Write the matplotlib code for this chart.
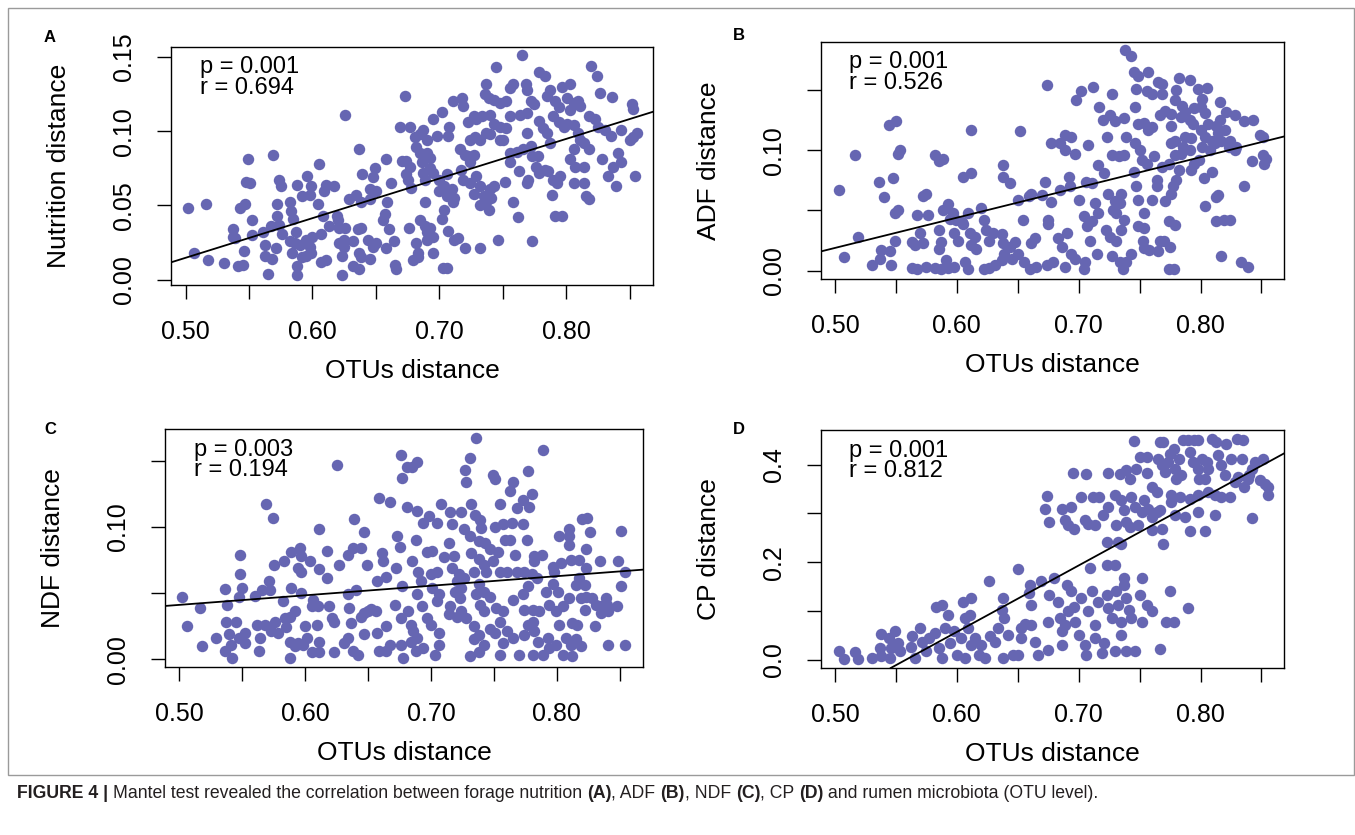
import numpy as np
import matplotlib.pyplot as plt
from matplotlib.patches import Rectangle

plt.rcParams['font.family'] = ['Liberation Sans', 'DejaVu Sans']

# (OTUs distance, forage distance) pairs
nutrition_pts = [
    (0.502, 0.048), (0.516, 0.051), (0.507, 0.018), (0.518, 0.013), (0.530, 0.011), (0.541, 0.009), (0.545, 0.010),
    (0.537, 0.029), (0.537, 0.034), (0.539, 0.028), (0.543, 0.048), (0.547, 0.051), (0.552, 0.040), (0.552, 0.030),
    (0.546, 0.019), (0.549, 0.081), (0.548, 0.066), (0.551, 0.065), (0.569, 0.084), (0.561, 0.032),
    (0.563, 0.023), (0.563, 0.016), (0.565, 0.004), (0.568, 0.014), (0.571, 0.021), (0.567, 0.036),
    (0.572, 0.051), (0.572, 0.043), (0.574, 0.067), (0.575, 0.063), (0.574, 0.037), (0.576, 0.031),
    (0.582, 0.052), (0.583, 0.046), (0.585, 0.041), (0.588, 0.064), (0.596, 0.070), (0.599, 0.063),
    (0.582, 0.026), (0.586, 0.025), (0.590, 0.023), (0.587, 0.032), (0.584, 0.018), (0.592, 0.015), (0.588, 0.009),
    (0.588, 0.003), (0.595, 0.027), (0.598, 0.022), (0.600, 0.029), (0.599, 0.018), (0.595, 0.016), (0.592, 0.056),
    (0.598, 0.057), (0.605, 0.078), (0.611, 0.064), (0.617, 0.063), (0.609, 0.060), (0.604, 0.051), (0.608, 0.043),
    (0.607, 0.031), (0.607, 0.012), (0.611, 0.013), (0.613, 0.036), (0.619, 0.043), (0.620, 0.040), (0.621, 0.035),
    (0.626, 0.035), (0.623, 0.003), (0.621, 0.025), (0.625, 0.022), (0.623, 0.016), (0.632, 0.026), (0.625, 0.027),
    (0.626, 0.111), (0.629, 0.054), (0.634, 0.057), (0.638, 0.052), (0.637, 0.088), (0.639, 0.071),
    (0.636, 0.034), (0.638, 0.035), (0.637, 0.018), (0.638, 0.015), (0.632, 0.009), (0.637, 0.007),
    (0.645, 0.061), (0.649, 0.075), (0.648, 0.069), (0.650, 0.060), (0.645, 0.054),
    (0.644, 0.027), (0.645, 0.014), (0.648, 0.022), (0.650, 0.025),
    (0.658, 0.081), (0.659, 0.052), (0.662, 0.065), (0.657, 0.044), (0.656, 0.040),
    (0.660, 0.034), (0.664, 0.026), (0.658, 0.021), (0.665, 0.010), (0.666, 0.007),
    (0.669, 0.103), (0.677, 0.103), (0.673, 0.124),
    (0.671, 0.080), (0.674, 0.080), (0.677, 0.076), (0.674, 0.071), (0.675, 0.067), (0.678, 0.062),
    (0.676, 0.035), (0.682, 0.025), (0.683, 0.018), (0.679, 0.013), (0.683, 0.015),
    (0.681, 0.096), (0.685, 0.098), (0.687, 0.101), (0.682, 0.089), (0.690, 0.094),
    (0.685, 0.085), (0.690, 0.085), (0.693, 0.082), (0.686, 0.079), (0.687, 0.072), (0.693, 0.075), (0.695, 0.072),
    (0.689, 0.067), (0.689, 0.052), (0.685, 0.040), (0.689, 0.036), (0.690, 0.032), (0.693, 0.035), (0.695, 0.029),
    (0.690, 0.027), (0.695, 0.018), (0.703, 0.008), (0.706, 0.008),
    (0.695, 0.108), (0.702, 0.113), (0.698, 0.097), (0.708, 0.103), (0.707, 0.097),
    (0.711, 0.120), (0.718, 0.122), (0.719, 0.117),
    (0.700, 0.067), (0.706, 0.071), (0.704, 0.063), (0.700, 0.060), (0.706, 0.056), (0.710, 0.061), (0.712, 0.055),
    (0.711, 0.052), (0.704, 0.047), (0.702, 0.041), (0.707, 0.033), (0.712, 0.027), (0.715, 0.028), (0.720, 0.021),
    (0.732, 0.021), (0.716, 0.088), (0.720, 0.084), (0.724, 0.079), (0.717, 0.074), (0.723, 0.083), (0.727, 0.084),
    (0.723, 0.106), (0.727, 0.110), (0.729, 0.108), (0.734, 0.110), (0.740, 0.111),
    (0.724, 0.094), (0.728, 0.096), (0.732, 0.094), (0.737, 0.099), (0.740, 0.098),
    (0.736, 0.125), (0.739, 0.122), (0.743, 0.121), (0.737, 0.132), (0.745, 0.143), (0.748, 0.119), (0.753, 0.120),
    (0.719, 0.067), (0.724, 0.065), (0.729, 0.070), (0.732, 0.063), (0.727, 0.058), (0.735, 0.056), (0.737, 0.052),
    (0.732, 0.050), (0.740, 0.061), (0.743, 0.063), (0.741, 0.055),
    (0.739, 0.047), (0.746, 0.027), (0.752, 0.066), (0.756, 0.079), (0.758, 0.052), (0.762, 0.042),
    (0.748, 0.094), (0.750, 0.094), (0.756, 0.085), (0.761, 0.086), (0.766, 0.088), (0.772, 0.090), (0.769, 0.099),
    (0.773, 0.083), (0.743, 0.105), (0.748, 0.103), (0.753, 0.102), (0.756, 0.110), (0.764, 0.111), (0.769, 0.112),
    (0.758, 0.132), (0.756, 0.129), (0.765, 0.151), (0.768, 0.132), (0.769, 0.128), (0.772, 0.120), (0.775, 0.118),
    (0.763, 0.073), (0.769, 0.065), (0.770, 0.067), (0.773, 0.026), (0.776, 0.076), (0.778, 0.083),
    (0.779, 0.140), (0.783, 0.137), (0.787, 0.128), (0.785, 0.124), (0.791, 0.120), (0.794, 0.116),
    (0.779, 0.107), (0.782, 0.102), (0.785, 0.099), (0.787, 0.092), (0.790, 0.110), (0.794, 0.106), (0.798, 0.103),
    (0.779, 0.072), (0.783, 0.074), (0.786, 0.073), (0.790, 0.067), (0.795, 0.070), (0.793, 0.065), (0.789, 0.057),
    (0.791, 0.043), (0.797, 0.043),
    (0.797, 0.130), (0.803, 0.132), (0.803, 0.114), (0.801, 0.122), (0.806, 0.119), (0.809, 0.120), (0.811, 0.117),
    (0.801, 0.105), (0.806, 0.104), (0.809, 0.099), (0.811, 0.094), (0.806, 0.088), (0.814, 0.092), (0.818, 0.088),
    (0.803, 0.081), (0.807, 0.076), (0.814, 0.076), (0.806, 0.065), (0.814, 0.065), (0.816, 0.056), (0.818, 0.054),
    (0.820, 0.144), (0.824, 0.137), (0.827, 0.126),
    (0.818, 0.110), (0.823, 0.108), (0.825, 0.103), (0.831, 0.101),
    (0.828, 0.081), (0.833, 0.070), (0.837, 0.076), (0.843, 0.079), (0.839, 0.063), (0.835, 0.097), (0.843, 0.101),
    (0.836, 0.123), (0.852, 0.118), (0.853, 0.115),
    (0.850, 0.094), (0.853, 0.096), (0.856, 0.099), (0.841, 0.085), (0.854, 0.070),
]

adf_pts = [
    (0.503, 0.067), (0.516, 0.096), (0.519, 0.028), (0.507, 0.011),
    (0.530, 0.005), (0.538, 0.017), (0.537, 0.010), (0.545, 0.016), (0.546, 0.005),
    (0.536, 0.074), (0.540, 0.061), (0.544, 0.121), (0.550, 0.124), (0.552, 0.097), (0.553, 0.100), (0.548, 0.077),
    (0.549, 0.048), (0.552, 0.050), (0.549, 0.025),
    (0.563, 0.002), (0.567, 0.001), (0.563, 0.024), (0.566, 0.021), (0.570, 0.031), (0.572, 0.023), (0.575, 0.003),
    (0.576, 0.046), (0.567, 0.046), (0.572, 0.062), (0.575, 0.064),
    (0.582, 0.096), (0.585, 0.091), (0.589, 0.093), (0.585, 0.034), (0.587, 0.024), (0.585, 0.018),
    (0.582, 0.002), (0.587, 0.001), (0.591, 0.009), (0.593, 0.002), (0.598, 0.003),
    (0.589, 0.050), (0.593, 0.055), (0.597, 0.048), (0.594, 0.043), (0.599, 0.042), (0.598, 0.031), (0.601, 0.025),
    (0.604, 0.040), (0.605, 0.078), (0.612, 0.081), (0.612, 0.117),
    (0.605, 0.039), (0.609, 0.048), (0.611, 0.031), (0.615, 0.028),
    (0.607, 0.007), (0.609, 0.001), (0.612, 0.021), (0.616, 0.018), (0.620, 0.052),
    (0.622, 0.042), (0.624, 0.034), (0.626, 0.025), (0.630, 0.031), (0.622, 0.001), (0.626, 0.002), (0.631, 0.005),
    (0.637, 0.030), (0.638, 0.023), (0.639, 0.014), (0.644, 0.020), (0.645, 0.010), (0.637, 0.009),
    (0.638, 0.088), (0.638, 0.078), (0.644, 0.073), (0.650, 0.059), (0.652, 0.116), (0.654, 0.042),
    (0.648, 0.024), (0.650, 0.014), (0.655, 0.007),
    (0.659, 0.062), (0.661, 0.064), (0.664, 0.027), (0.661, 0.023), (0.660, 0.001), (0.665, 0.003),
    (0.670, 0.063), (0.672, 0.074), (0.675, 0.039), (0.675, 0.042), (0.674, 0.154),
    (0.677, 0.106), (0.685, 0.106), (0.689, 0.113), (0.694, 0.111), (0.689, 0.100), (0.697, 0.097),
    (0.677, 0.057), (0.685, 0.067), (0.692, 0.078), (0.693, 0.070), (0.700, 0.059),
    (0.674, 0.005), (0.679, 0.007), (0.683, 0.027), (0.686, 0.020), (0.690, 0.031), (0.694, 0.014), (0.697, 0.010),
    (0.689, 0.003), (0.698, 0.142), (0.702, 0.149), (0.712, 0.153), (0.708, 0.104), (0.706, 0.074), (0.711, 0.073),
    (0.704, 0.045), (0.707, 0.037), (0.711, 0.041), (0.713, 0.056), (0.716, 0.048), (0.709, 0.025), (0.715, 0.014),
    (0.705, 0.007), (0.704, 0.001),
    (0.717, 0.136), (0.720, 0.125), (0.726, 0.129), (0.727, 0.147), (0.730, 0.124), (0.737, 0.127), (0.723, 0.111),
    (0.716, 0.088), (0.721, 0.081), (0.727, 0.096), (0.733, 0.095), (0.737, 0.096), (0.724, 0.064), (0.730, 0.058),
    (0.734, 0.056), (0.735, 0.064), (0.728, 0.050), (0.731, 0.048), (0.737, 0.042),
    (0.722, 0.034), (0.726, 0.028), (0.731, 0.025), (0.735, 0.034), (0.727, 0.012), (0.734, 0.007), (0.739, 0.007),
    (0.736, 0.001), (0.743, 0.014),
    (0.738, 0.183), (0.743, 0.178), (0.745, 0.165), (0.749, 0.162), (0.747, 0.151), (0.757, 0.165), (0.756, 0.149),
    (0.760, 0.147), (0.746, 0.136), (0.749, 0.122), (0.754, 0.123), (0.760, 0.119), (0.757, 0.117), (0.739, 0.111),
    (0.746, 0.106), (0.745, 0.082), (0.750, 0.100), (0.752, 0.092), (0.756, 0.089), (0.762, 0.095), (0.747, 0.070),
    (0.749, 0.059), (0.754, 0.048), (0.749, 0.037), (0.753, 0.025), (0.754, 0.035),
    (0.760, 0.059), (0.764, 0.075), (0.764, 0.070), (0.768, 0.086), (0.771, 0.058), (0.774, 0.089),
    (0.754, 0.019), (0.758, 0.017), (0.765, 0.016), (0.767, 0.025), (0.770, 0.025), (0.774, 0.041), (0.775, 0.020),
    (0.774, 0.001), (0.778, 0.001), (0.779, 0.038),
    (0.765, 0.157), (0.768, 0.155), (0.768, 0.147), (0.782, 0.160), (0.780, 0.150), (0.779, 0.142), (0.785, 0.137),
    (0.791, 0.158), (0.798, 0.151), (0.805, 0.152), (0.801, 0.143), (0.795, 0.135),
    (0.767, 0.129), (0.771, 0.133), (0.776, 0.130), (0.784, 0.128), (0.787, 0.132), (0.791, 0.125), (0.794, 0.122),
    (0.776, 0.120), (0.779, 0.108), (0.787, 0.111), (0.792, 0.110), (0.786, 0.103), (0.791, 0.100), (0.776, 0.106),
    (0.779, 0.096), (0.784, 0.097),
    (0.782, 0.084), (0.780, 0.075), (0.777, 0.070), (0.776, 0.064), (0.792, 0.084), (0.795, 0.089), (0.799, 0.092),
    (0.803, 0.077), (0.809, 0.082),
    (0.800, 0.136), (0.804, 0.131), (0.806, 0.122), (0.800, 0.117), (0.804, 0.111), (0.809, 0.108), (0.801, 0.103),
    (0.808, 0.100), (0.812, 0.106), (0.814, 0.114), (0.813, 0.120), (0.816, 0.125), (0.820, 0.117), (0.816, 0.140),
    (0.821, 0.132), (0.828, 0.129), (0.817, 0.108), (0.823, 0.103), (0.828, 0.100), (0.824, 0.108),
    (0.804, 0.054), (0.813, 0.061), (0.814, 0.063), (0.813, 0.041), (0.819, 0.042), (0.824, 0.042), (0.817, 0.012),
    (0.836, 0.070), (0.833, 0.007), (0.839, 0.003),
    (0.829, 0.103), (0.836, 0.124), (0.843, 0.125), (0.849, 0.113), (0.851, 0.111), (0.842, 0.091), (0.851, 0.096),
    (0.854, 0.093), (0.852, 0.089),
]

ndf_pts = [
    (0.502, 0.047), (0.506, 0.025), (0.516, 0.039), (0.518, 0.010), (0.529, 0.016),
    (0.536, 0.053), (0.538, 0.041), (0.537, 0.028), (0.539, 0.019), (0.541, 0.011), (0.536, 0.006), (0.542, 0.001),
    (0.545, 0.028), (0.547, 0.016), (0.547, 0.047), (0.550, 0.054), (0.548, 0.064), (0.548, 0.079),
    (0.552, 0.020), (0.552, 0.012), (0.560, 0.048), (0.562, 0.026), (0.564, 0.016), (0.563, 0.006),
    (0.566, 0.052), (0.571, 0.059), (0.572, 0.052), (0.575, 0.071), (0.569, 0.117), (0.574, 0.107),
    (0.568, 0.026), (0.573, 0.021), (0.576, 0.028), (0.578, 0.020), (0.582, 0.044), (0.584, 0.031), (0.585, 0.024),
    (0.583, 0.074), (0.589, 0.081), (0.596, 0.084), (0.597, 0.078), (0.594, 0.069), (0.597, 0.066), (0.604, 0.074),
    (0.589, 0.054), (0.597, 0.050), (0.588, 0.032), (0.592, 0.036), (0.588, 0.013), (0.592, 0.010), (0.594, 0.012),
    (0.598, 0.011), (0.588, 0.001), (0.600, 0.025), (0.601, 0.016), (0.605, 0.005),
    (0.606, 0.045), (0.610, 0.040), (0.609, 0.026), (0.611, 0.013), (0.611, 0.005), (0.605, 0.040),
    (0.611, 0.098), (0.611, 0.068), (0.617, 0.082), (0.617, 0.061),
    (0.619, 0.040), (0.621, 0.031), (0.623, 0.028), (0.623, 0.005), (0.625, 0.147),
    (0.627, 0.071), (0.634, 0.079), (0.638, 0.084), (0.639, 0.106), (0.644, 0.084), (0.647, 0.096), (0.649, 0.071),
    (0.634, 0.049), (0.640, 0.052), (0.635, 0.039), (0.636, 0.027), (0.634, 0.016), (0.631, 0.012), (0.638, 0.006),
    (0.642, 0.003), (0.644, 0.032), (0.647, 0.035), (0.650, 0.036), (0.647, 0.019),
    (0.652, 0.038), (0.656, 0.036), (0.657, 0.059), (0.659, 0.122), (0.661, 0.080), (0.662, 0.074), (0.664, 0.062),
    (0.667, 0.119), (0.664, 0.025), (0.657, 0.020), (0.659, 0.006), (0.664, 0.006), (0.667, 0.011),
    (0.671, 0.041), (0.673, 0.093), (0.675, 0.085), (0.672, 0.069), (0.677, 0.055), (0.676, 0.031), (0.676, 0.011),
    (0.678, 0.001), (0.676, 0.154), (0.677, 0.137), (0.681, 0.145), (0.685, 0.145), (0.689, 0.149), (0.681, 0.115),
    (0.689, 0.112), (0.685, 0.074), (0.688, 0.090), (0.690, 0.066), (0.692, 0.059), (0.689, 0.049), (0.693, 0.040),
    (0.682, 0.036), (0.684, 0.026), (0.686, 0.021), (0.689, 0.016), (0.684, 0.013), (0.688, 0.006), (0.694, 0.008),
    (0.694, 0.103), (0.698, 0.108), (0.697, 0.081), (0.701, 0.082), (0.700, 0.064), (0.705, 0.066), (0.701, 0.054),
    (0.706, 0.049), (0.705, 0.044), (0.697, 0.031), (0.700, 0.026), (0.706, 0.020), (0.706, 0.011), (0.703, 0.003),
    (0.705, 0.103), (0.708, 0.117), (0.710, 0.077), (0.714, 0.088), (0.717, 0.102), (0.715, 0.111), (0.724, 0.111),
    (0.718, 0.078), (0.717, 0.069), (0.722, 0.064), (0.721, 0.059), (0.726, 0.061), (0.724, 0.054), (0.719, 0.051),
    (0.723, 0.046), (0.715, 0.040), (0.714, 0.034), (0.721, 0.032), (0.724, 0.036),
    (0.727, 0.143), (0.728, 0.134), (0.731, 0.152), (0.736, 0.167), (0.732, 0.117), (0.735, 0.109), (0.739, 0.105),
    (0.740, 0.099), (0.726, 0.098), (0.731, 0.093), (0.738, 0.089), (0.743, 0.088), (0.732, 0.080), (0.738, 0.076),
    (0.742, 0.071), (0.734, 0.066), (0.738, 0.057), (0.744, 0.066), (0.736, 0.049), (0.742, 0.051), (0.747, 0.047),
    (0.739, 0.041), (0.742, 0.036), (0.728, 0.031), (0.734, 0.025), (0.738, 0.018), (0.734, 0.015), (0.742, 0.011),
    (0.731, 0.002), (0.738, 0.005), (0.747, 0.023), (0.751, 0.020),
    (0.749, 0.139), (0.751, 0.136), (0.755, 0.117), (0.751, 0.100), (0.757, 0.102), (0.759, 0.090), (0.763, 0.090),
    (0.747, 0.083), (0.753, 0.081), (0.749, 0.074), (0.755, 0.066), (0.760, 0.066), (0.767, 0.079), (0.752, 0.039),
    (0.757, 0.036), (0.765, 0.045), (0.755, 0.028), (0.760, 0.021), (0.757, 0.012), (0.755, 0.003), (0.765, 0.016),
    (0.770, 0.003),
    (0.765, 0.134), (0.763, 0.127), (0.768, 0.114), (0.773, 0.120), (0.777, 0.142), (0.780, 0.125), (0.778, 0.115),
    (0.764, 0.103), (0.773, 0.102), (0.776, 0.090), (0.768, 0.066), (0.774, 0.066), (0.782, 0.078), (0.788, 0.079),
    (0.780, 0.064), (0.782, 0.074), (0.784, 0.061), (0.777, 0.055), (0.773, 0.049), (0.774, 0.037), (0.781, 0.037),
    (0.786, 0.036), (0.777, 0.026), (0.781, 0.028), (0.774, 0.018), (0.782, 0.021), (0.785, 0.013), (0.781, 0.003),
    (0.789, 0.003), (0.789, 0.158),
    (0.791, 0.051), (0.797, 0.070), (0.798, 0.066), (0.802, 0.093), (0.797, 0.057), (0.801, 0.051), (0.794, 0.041),
    (0.799, 0.036), (0.805, 0.040), (0.802, 0.026), (0.793, 0.016), (0.799, 0.011), (0.794, 0.008), (0.805, 0.003),
    (0.807, 0.016), (0.811, 0.011), (0.812, 0.002),
    (0.810, 0.098), (0.810, 0.093), (0.810, 0.086), (0.811, 0.075), (0.803, 0.073), (0.818, 0.075), (0.818, 0.061),
    (0.815, 0.056), (0.819, 0.046), (0.810, 0.046), (0.812, 0.027), (0.816, 0.026), (0.815, 0.015), (0.819, 0.010),
    (0.820, 0.106), (0.824, 0.107), (0.826, 0.096), (0.823, 0.083), (0.823, 0.069), (0.822, 0.056), (0.823, 0.047),
    (0.828, 0.046), (0.822, 0.037), (0.830, 0.025), (0.831, 0.041), (0.835, 0.040), (0.834, 0.074), (0.839, 0.046),
    (0.841, 0.036), (0.840, 0.041), (0.848, 0.040), (0.851, 0.097), (0.849, 0.074), (0.854, 0.066), (0.851, 0.055),
    (0.841, 0.011), (0.854, 0.011), (0.835, 0.035),
]

cp_pts = [
    (0.503, 0.017), (0.507, 0.001), (0.516, 0.016), (0.519, 0.001), (0.530, 0.003), (0.538, 0.007), (0.537, 0.025),
    (0.538, 0.052), (0.544, 0.044), (0.546, 0.025), (0.545, 0.003), (0.549, 0.058), (0.552, 0.034), (0.553, 0.017),
    (0.562, 0.027), (0.563, 0.048), (0.566, 0.003), (0.570, 0.066), (0.571, 0.037), (0.575, 0.017), (0.577, 0.044),
    (0.582, 0.055), (0.583, 0.109), (0.588, 0.112), (0.585, 0.024), (0.588, 0.003), (0.590, 0.065), (0.593, 0.092),
    (0.594, 0.034), (0.598, 0.058), (0.600, 0.010), (0.603, 0.044), (0.605, 0.119), (0.607, 0.085), (0.611, 0.092),
    (0.612, 0.127), (0.609, 0.065), (0.612, 0.031), (0.607, 0.003),
    (0.615, 0.044), (0.618, 0.010), (0.620, 0.031), (0.623, 0.003), (0.626, 0.161), (0.627, 0.048), (0.631, 0.037),
    (0.634, 0.065), (0.637, 0.102), (0.638, 0.126), (0.639, 0.085), (0.638, 0.003), (0.642, 0.051), (0.646, 0.010),
    (0.650, 0.187), (0.650, 0.010), (0.653, 0.044), (0.653, 0.065), (0.656, 0.073), (0.659, 0.136), (0.660, 0.153),
    (0.661, 0.112), (0.661, 0.072), (0.664, 0.037), (0.667, 0.010),
    (0.669, 0.161), (0.675, 0.020), (0.676, 0.133), (0.675, 0.078), (0.680, 0.167), (0.683, 0.119), (0.685, 0.085),
    (0.686, 0.058), (0.689, 0.072), (0.686, 0.031), (0.691, 0.099), (0.690, 0.153), (0.694, 0.140), (0.696, 0.109),
    (0.697, 0.078), (0.700, 0.051), (0.702, 0.126), (0.705, 0.031), (0.706, 0.010), (0.708, 0.099), (0.709, 0.189),
    (0.711, 0.140), (0.713, 0.072), (0.716, 0.119), (0.713, 0.044), (0.719, 0.014), (0.721, 0.034),
    (0.723, 0.194), (0.723, 0.133), (0.724, 0.106), (0.727, 0.085), (0.730, 0.194), (0.731, 0.140), (0.732, 0.112),
    (0.735, 0.078), (0.737, 0.167), (0.737, 0.153), (0.739, 0.126), (0.741, 0.102), (0.743, 0.085), (0.735, 0.051),
    (0.730, 0.017), (0.739, 0.018), (0.746, 0.018), (0.752, 0.167), (0.750, 0.133), (0.752, 0.078), (0.756, 0.112),
    (0.760, 0.099), (0.767, 0.022), (0.772, 0.078), (0.775, 0.140), (0.778, 0.078), (0.790, 0.106),
    (0.674, 0.335), (0.672, 0.310), (0.676, 0.283), (0.686, 0.310), (0.689, 0.286), (0.691, 0.276), (0.696, 0.269),
    (0.694, 0.313), (0.702, 0.334), (0.705, 0.286), (0.708, 0.279), (0.712, 0.334), (0.713, 0.276), (0.717, 0.334),
    (0.720, 0.296), (0.723, 0.242), (0.724, 0.313), (0.730, 0.337), (0.731, 0.276), (0.732, 0.242), (0.735, 0.238),
    (0.735, 0.327), (0.737, 0.307), (0.739, 0.283), (0.742, 0.273), (0.743, 0.334), (0.746, 0.313), (0.749, 0.276),
    (0.752, 0.303), (0.754, 0.327), (0.757, 0.310), (0.760, 0.293), (0.760, 0.266), (0.764, 0.303), (0.768, 0.269),
    (0.769, 0.238), (0.767, 0.307),
    (0.695, 0.382), (0.706, 0.380), (0.724, 0.383), (0.734, 0.380), (0.739, 0.388), (0.742, 0.371), (0.747, 0.392),
    (0.756, 0.382), (0.750, 0.416), (0.756, 0.416), (0.760, 0.354), (0.764, 0.344), (0.745, 0.448), (0.767, 0.446),
    (0.769, 0.446),
    (0.765, 0.412), (0.768, 0.399), (0.771, 0.385), (0.773, 0.405), (0.775, 0.422), (0.778, 0.433), (0.779, 0.392),
    (0.782, 0.412), (0.780, 0.371), (0.784, 0.378), (0.786, 0.450), (0.790, 0.450), (0.791, 0.426), (0.795, 0.450),
    (0.798, 0.450), (0.794, 0.405), (0.798, 0.392), (0.801, 0.412), (0.805, 0.405), (0.799, 0.371), (0.804, 0.371),
    (0.806, 0.392), (0.809, 0.453), (0.813, 0.446), (0.814, 0.419), (0.817, 0.399), (0.820, 0.378), (0.821, 0.443),
    (0.825, 0.412), (0.830, 0.453), (0.834, 0.412), (0.831, 0.375), (0.835, 0.450), (0.828, 0.364), (0.824, 0.334),
    (0.817, 0.334), (0.812, 0.337), (0.806, 0.344), (0.798, 0.337), (0.791, 0.330), (0.783, 0.334), (0.776, 0.337),
    (0.776, 0.324), (0.779, 0.296), (0.787, 0.293), (0.798, 0.303), (0.812, 0.296), (0.791, 0.264), (0.804, 0.264),
    (0.836, 0.354), (0.840, 0.378), (0.842, 0.392), (0.839, 0.371), (0.842, 0.291), (0.845, 0.405), (0.849, 0.368),
    (0.851, 0.412), (0.853, 0.361), (0.855, 0.354), (0.855, 0.337),
]

x_ticks = [0.50, 0.55, 0.60, 0.65, 0.70, 0.75, 0.80, 0.85]
x_ticklabels = ['0.50', '', '0.60', '', '0.70', '', '0.80', '']

panels = [
    # letter, points, y label, p, r, yticks, yticklabels, ylim, box (px: left, top, right, bottom)
    ('A', nutrition_pts, 'Nutrition distance', '0.001', '0.694',
     [0.00, 0.05, 0.10, 0.15], ['0.00', '0.05', '0.10', '0.15'], (-0.0036, 0.157), (171, 46.5, 653, 285)),
    ('B', adf_pts, 'ADF distance', '0.001', '0.526',
     [0.00, 0.05, 0.10, 0.15], ['0.00', '', '0.10', ''], (-0.007, 0.190), (821, 42, 1284, 279)),
    ('C', ndf_pts, 'NDF distance', '0.003', '0.194',
     [0.00, 0.05, 0.10, 0.15], ['0.00', '', '0.10', ''], (-0.006, 0.174), (165, 429, 643, 667)),
    ('D', cp_pts, 'CP distance', '0.001', '0.812',
     [0.0, 0.1, 0.2, 0.3, 0.4], ['0.0', '', '0.2', '', '0.4'], (-0.017, 0.471), (821, 430, 1284, 668)),
]
letter_pos = {'A': (50, 37), 'B': (739, 36), 'C': (50, 430), 'D': (739, 429)}

W, H = 1355, 835
dot_col = '#6666b2'

fig = plt.figure(figsize=(W / 100, H / 100), dpi=100)
fig.patches.append(Rectangle((8 / W, 1 - 775 / H), 1346 / W, 767 / H, transform=fig.transFigure,
                             fill=False, edgecolor='#9a9a9a', lw=1))

for letter, pts, ylab, p, r, yt, ytl, ylim, box in panels:
    left, top, right, bottom = box
    ax = fig.add_axes([left / W, 1 - bottom / H, (right - left) / W, (bottom - top) / H])
    x, y = np.array(pts).T
    ax.scatter(x, y, s=68, color=dot_col, linewidths=0, zorder=2)
    slope, icpt = np.polyfit(x, y, 1)
    ax.axline((0.5, icpt + 0.5 * slope), slope=slope, color='black', lw=1.3, zorder=3)

    ax.set_xlim(0.4885, 0.8685)
    ax.set_ylim(*ylim)
    ax.set_xticks(x_ticks)
    ax.set_xticklabels(x_ticklabels)
    ax.set_yticks(yt)
    ax.set_yticklabels(ytl, rotation=90, va='center')
    ax.tick_params(direction='out', length=10, width=1, labelsize=18, pad=15)
    for s in ax.spines.values():
        s.set_linewidth(1)

    ax.set_xlabel('OTUs distance', fontsize=19)
    ax.set_ylabel(ylab, fontsize=19)
    wpx, hpx = right - left, bottom - top
    ax.xaxis.set_label_coords(0.5, -86 / hpx)
    ax.xaxis.label.set_va('center')
    ax.yaxis.set_label_coords(-112 / wpx, 0.5)
    ax.yaxis.label.set_va('center')

    # mantel statistics, two tight lines like R's text()
    ax.text(0.06, 0.87, 'p = ' + p + '\nr = ' + r, transform=ax.transAxes, fontsize=17,
            va='center', ha='left', linespacing=0.92)

    lx, ly = letter_pos[letter]
    fig.text(lx / W, 1 - ly / H, letter, fontsize=12, fontweight='bold', ha='center', va='center')

# caption with bold pieces
caption = [('FIGURE 4 | ', True), ('Mantel test revealed the correlation between forage nutrition ', False),
           ('(A)', True), (', ADF ', False), ('(B)', True), (', NDF ', False), ('(C)', True), (', CP ', False),
           ('(D)', True), (' and rumen microbiota (OTU level).', False)]
renderer = fig.canvas.get_renderer()
cx = 17 / W
for txt, bold in caption:
    t = fig.text(cx, 1 - 793 / H, txt, fontsize=12.7, fontweight='bold' if bold else 'normal',
                 family=['Liberation Sans Narrow', 'Liberation Sans'], va='center', ha='left', color='#231f20')
    cx += t.get_window_extent(renderer).width / W

fig.savefig('out.png', dpi=100)
